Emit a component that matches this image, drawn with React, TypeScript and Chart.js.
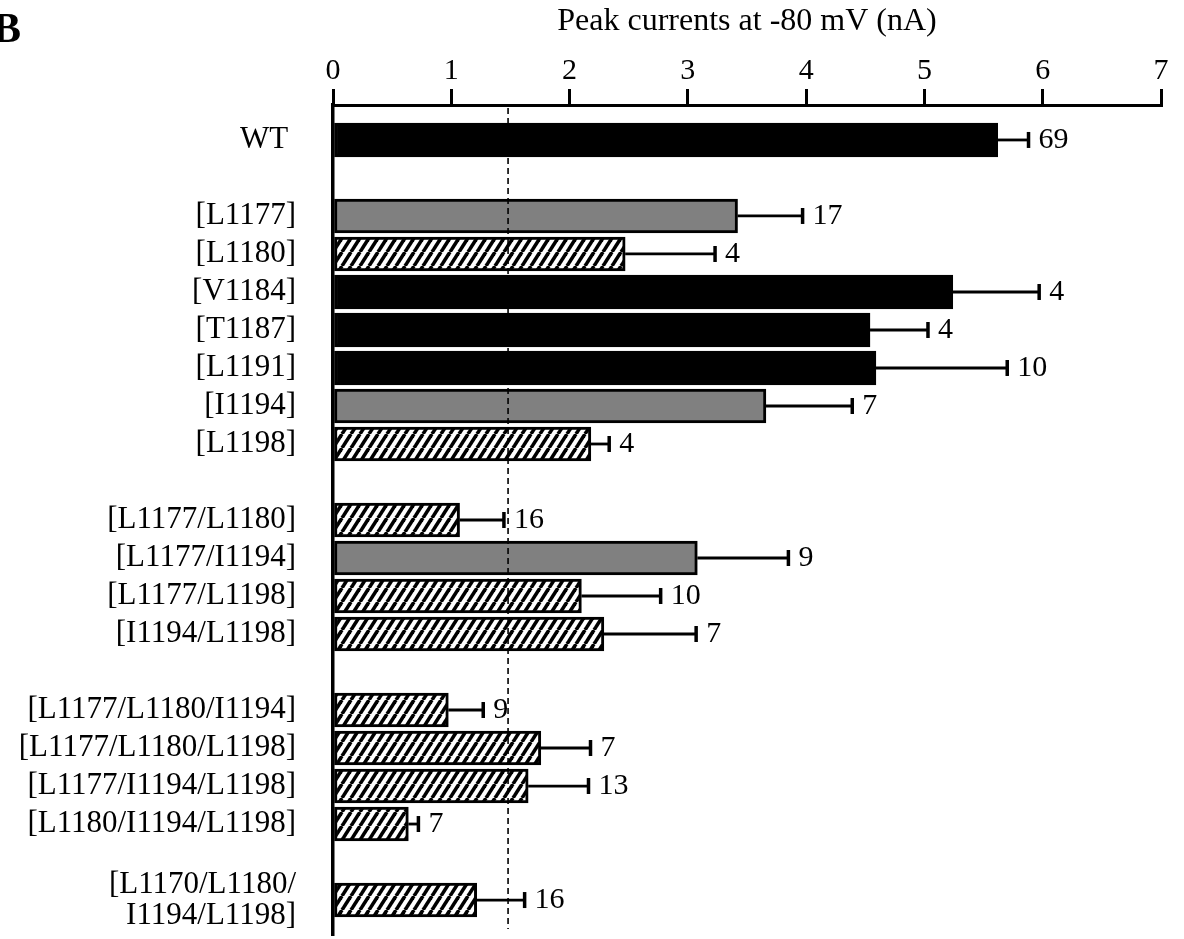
import React, { useEffect, useRef } from 'react';
import { Chart, registerables } from 'chart.js';

Chart.register(...registerables);

// ---- data ----
const slots = [0, 2, 3, 4, 5, 6, 7, 8, 10, 11, 12, 13, 15, 16, 17, 18, 20];
const categories: (string | string[])[] = [
  'WT ',
  '[L1177]',
  '[L1180]',
  '[V1184]',
  '[T1187]',
  '[L1191]',
  '[I1194]',
  '[L1198]',
  '[L1177/L1180]',
  '[L1177/I1194]',
  '[L1177/L1198]',
  '[I1194/L1198]',
  '[L1177/L1180/I1194]',
  '[L1177/L1180/L1198]',
  '[L1177/I1194/L1198]',
  '[L1180/I1194/L1198]',
  ['[L1170/L1180/', 'I1194/L1198]'],
];
const peakCurrents = [5.62, 3.42, 2.47, 5.24, 4.54, 4.59, 3.66, 2.18, 1.07, 3.08, 2.1, 2.29, 0.975, 1.757, 1.65, 0.637, 1.215];
const sem = [0.26, 0.55, 0.76, 0.73, 0.49, 1.11, 0.73, 0.155, 0.375, 0.77, 0.67, 0.78, 0.295, 0.42, 0.51, 0.085, 0.405];
const nCells = [69, 17, 4, 4, 4, 10, 7, 4, 16, 9, 10, 7, 9, 7, 13, 7, 16];
const fillKind = ['black', 'gray', 'hatch', 'black', 'black', 'black', 'gray', 'hatch', 'hatch', 'gray', 'hatch', 'hatch', 'hatch', 'hatch', 'hatch', 'hatch', 'hatch'];
const xTicks = [0, 1, 2, 3, 4, 5, 6, 7];
const thresholdValue = 1.48;
const axisTitle = 'Peak currents at -80 mV (nA)';
const panelLetter = 'B';

const SERIF = '"Liberation Serif", "Times New Roman", serif';

function makeHatch(): CanvasPattern | string {
  const w = 9;
  const h = 14;
  const c = document.createElement('canvas');
  c.width = w;
  c.height = h;
  const g = c.getContext('2d');
  if (!g) return '#fff';
  g.fillStyle = '#fff';
  g.fillRect(0, 0, w, h);
  g.strokeStyle = '#000';
  g.lineWidth = 3.6;
  for (let k = -1; k <= 1; k++) {
    g.beginPath();
    g.moveTo(k * w, h);
    g.lineTo(k * w + w, 0);
    g.stroke();
  }
  const p = g.createPattern(c, 'repeat');
  return p || '#fff';
}

export default function App() {
  const ref = useRef<HTMLCanvasElement | null>(null);

  useEffect(() => {
    if (!ref.current) return;
    const hatch = makeHatch();
    const fills = fillKind.map((k) => (k === 'black' ? '#000000' : k === 'gray' ? '#808080' : hatch));

    const labelFor = (v: number) => {
      const i = slots.indexOf(v);
      return i >= 0 ? categories[i] : '';
    };

    const overlay = {
      id: 'overlay',
      afterDatasetsDraw(chart: any) {
        const { ctx, chartArea } = chart;
        const x = chart.scales.x;
        const y = chart.scales.y;
        ctx.save();
        // dashed reference line
        const xd = x.getPixelForValue(thresholdValue);
        ctx.setLineDash([6, 4]);
        ctx.lineWidth = 1.6;
        ctx.strokeStyle = '#000';
        ctx.beginPath();
        ctx.moveTo(xd, chartArea.top + 3);
        ctx.lineTo(xd, chartArea.bottom - 6);
        ctx.stroke();
        ctx.setLineDash([]);
        // error bars + n labels
        slots.forEach((s, i) => {
          const yc = y.getPixelForValue(s);
          const x0 = x.getPixelForValue(peakCurrents[i]);
          const x1 = x.getPixelForValue(peakCurrents[i] + sem[i]);
          ctx.strokeStyle = '#000';
          ctx.lineWidth = 2.8;
          ctx.beginPath();
          ctx.moveTo(x0, yc);
          ctx.lineTo(x1, yc);
          ctx.stroke();
          ctx.lineWidth = 3.5;
          ctx.beginPath();
          ctx.moveTo(x1, yc - 8);
          ctx.lineTo(x1, yc + 8);
          ctx.stroke();
          ctx.fillStyle = '#000';
          ctx.font = `30px ${SERIF}`;
          ctx.textAlign = 'left';
          ctx.textBaseline = 'middle';
          ctx.fillText(String(nCells[i]), x1 + 10, yc);
        });
        // panel letter
        ctx.font = `bold 42px ${SERIF}`;
        ctx.textAlign = 'right';
        ctx.textBaseline = 'alphabetic';
        ctx.fillStyle = '#000';
        ctx.fillText(panelLetter, 21, 42);
        ctx.restore();
      },
    };

    const chart = new Chart(ref.current, {
      type: 'bar',
      data: {
        datasets: [
          {
            data: slots.map((s, i) => ({ x: peakCurrents[i], y: s })),
            backgroundColor: fills as any,
            borderColor: '#000',
            borderWidth: 3,
            borderSkipped: false,
            barThickness: 34,
          },
        ],
      },
      options: {
        indexAxis: 'y',
        responsive: false,
        animation: false,
        layout: { padding: { top: 0, left: 0, right: 23, bottom: 4 } },
        plugins: {
          legend: { display: false },
          tooltip: { enabled: false },
        },
        scales: {
          x: {
            type: 'linear',
            position: 'top',
            min: 0,
            max: 7,
            offset: false,
            afterBuildTicks: (s: any) => {
              s.ticks = xTicks.map((v) => ({ value: v }));
            },
            afterFit: (s: any) => {
              s.height = 105;
              s.paddingLeft = 0;
              s.paddingRight = 0;
            },
            ticks: {
              font: { family: SERIF, size: 30 },
              color: '#000',
              padding: 0,
              maxRotation: 0,
              autoSkip: false,
            },
            grid: {
              drawOnChartArea: false,
              drawTicks: true,
              tickLength: 16,
              lineWidth: 3,
              color: '#000',
            },
            border: { display: true, width: 3, color: '#000' },
            title: {
              display: true,
              text: axisTitle,
              font: { family: SERIF, size: 32 },
              color: '#000',
              padding: { top: 2, bottom: 0 },
            },
          },
          y: {
            type: 'linear',
            position: 'left',
            reverse: true,
            offset: false,
            bounds: 'data',
            min: -0.92,
            max: 20.92,
            afterBuildTicks: (s: any) => {
              s.ticks = slots.map((v) => ({ value: v }));
            },
            afterFit: (s: any) => {
              s.width = 333;
              s.paddingTop = 0;
              s.paddingBottom = 0;
            },
            ticks: {
              autoSkip: false,
              font: { family: SERIF, size: 31, lineHeight: 1.0 },
              color: '#000',
              padding: 37,
              callback: (v: any) => labelFor(Number(v)) as any,
            },
            grid: { display: false, drawTicks: false, offset: false },
            border: { display: true, width: 3.5, color: '#000' },
          },
        },
      },
      plugins: [overlay],
    } as any);

    return () => chart.destroy();
  }, []);

  return (
    <div style={{ position: 'absolute', left: 0, top: 0, width: 1184, height: 939, background: '#fff' }}>
      <canvas ref={ref} width={1184} height={939} style={{ display: 'block' }} />
    </div>
  );
}
